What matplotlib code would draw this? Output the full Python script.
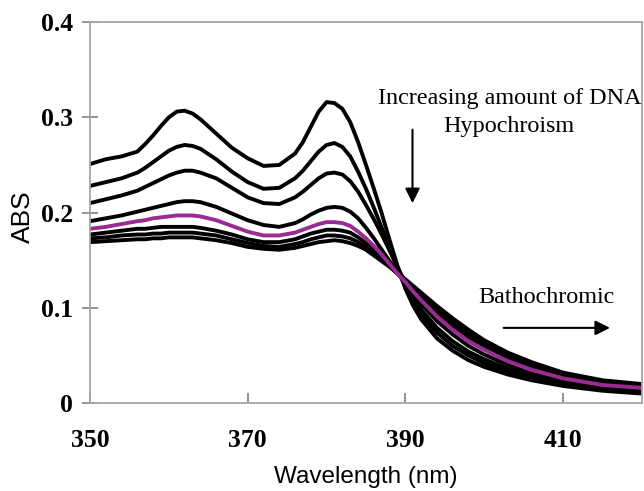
import matplotlib
matplotlib.use("Agg")
import matplotlib.pyplot as plt

# wavelength grid (nm), denser around the peaks and the steep drop
wl = [350, 352, 354, 356, 357, 358, 359, 360, 361, 362, 363, 364, 366, 368, 370, 372, 374, 376,
      377, 378, 379, 380, 381, 382, 383, 384, 385, 386, 387, 388, 389, 390, 391, 392,
      394, 396, 398, 400, 403, 406, 410, 415, 420]

# absorbance, free compound -> increasing DNA
abs1 = [.251, .256, .259, .264, .272, .281, .291, .300, .306, .307, .304, .298, .283, .268, .257, .249, .250, .262,
        .274, .290, .306, .316, .315, .309, .295, .274, .250, .225, .199, .171, .144, .120, .102, .088,
        .068, .055, .045, .038, .030, .024, .018, .013, .010]
abs2 = [.228, .232, .236, .242, .247, .253, .259, .265, .269, .271, .270, .267, .256, .243, .232, .225, .226, .236,
        .244, .254, .264, .271, .273, .269, .259, .243, .225, .205, .184, .162, .141, .122, .106, .093,
        .074, .060, .050, .042, .033, .026, .020, .015, .012]
abs3 = [.210, .214, .218, .223, .227, .231, .235, .239, .242, .244, .244, .242, .236, .226, .216, .210, .209, .216,
        .222, .229, .236, .241, .242, .240, .233, .222, .208, .193, .177, .160, .143, .126, .111, .098,
        .079, .065, .054, .046, .036, .028, .021, .016, .013]
abs4 = [.191, .194, .197, .201, .203, .205, .207, .209, .211, .212, .212, .211, .206, .199, .192, .187, .185, .189,
        .193, .198, .202, .205, .206, .205, .201, .194, .184, .173, .161, .149, .137, .125, .114, .104,
        .086, .072, .060, .051, .040, .031, .023, .017, .014]
abs5 = [.183, .185, .188, .191, .192, .194, .195, .196, .197, .197, .197, .196, .192, .186, .180, .176, .176, .179,
        .182, .185, .188, .190, .190, .189, .186, .180, .173, .165, .156, .146, .136, .127, .117, .108,
        .091, .077, .065, .056, .044, .035, .026, .019, .016]
abs6 = [.177, .179, .181, .183, .183, .184, .185, .185, .185, .185, .185, .184, .181, .177, .172, .169, .169, .172,
        .175, .178, .180, .182, .182, .181, .179, .174, .168, .161, .153, .145, .136, .128, .119, .111,
        .095, .081, .069, .059, .047, .037, .028, .021, .017]
abs7 = [.173, .174, .176, .177, .177, .178, .178, .179, .179, .179, .179, .178, .176, .172, .168, .165, .164, .167,
        .169, .172, .174, .176, .176, .175, .173, .169, .164, .158, .151, .144, .136, .129, .121, .113,
        .098, .085, .073, .062, .050, .040, .030, .022, .018]
abs8 = [.169, .170, .171, .172, .172, .173, .173, .174, .174, .174, .174, .173, .171, .168, .164, .162, .161, .163,
        .165, .167, .169, .170, .171, .170, .168, .165, .161, .155, .149, .143, .136, .130, .123, .116,
        .102, .089, .077, .066, .053, .043, .032, .024, .020]

xticks = [350, 370, 390, 410]
yticks = [0, 0.1, 0.2, 0.3, 0.4]
ytick_labels = ["0", "0.1", "0.2", "0.3", "0.4"]

fig = plt.figure(figsize=(6.44, 4.91), dpi=100)
ax = fig.add_axes([0.1398, 0.179, 0.857, 0.776])

for y in [abs1, abs2, abs3, abs4, abs6, abs7, abs8]:
    ax.plot(wl, y, color="black", lw=2.8, solid_joinstyle="round")
ax.plot(wl, abs5, color="#9a2b91", lw=2.8, solid_joinstyle="round")

ax.set_xlim(350, 420)
ax.set_ylim(0, 0.4)
ax.set_xticks(xticks)
ax.set_yticks(yticks)
ax.set_yticklabels(ytick_labels)

for s in ax.spines.values():
    s.set_color("#a6a6a6")
    s.set_linewidth(1.3)

ax.tick_params(axis="x", direction="in", length=7, width=1.2, color="#808080", pad=19)
ax.tick_params(axis="y", direction="inout", length=12, width=1.2, color="#808080", pad=6)
for lab in ax.get_xticklabels() + ax.get_yticklabels():
    lab.set_fontfamily("Liberation Serif")
    lab.set_fontweight("bold")
    lab.set_fontsize(18.5)

ax.set_xlabel("Wavelength (nm)", family="Liberation Sans", fontsize=17.5)
ax.xaxis.set_label_coords(0.5, -0.166)
ax.set_ylabel("ABS", family="Liberation Sans", fontsize=19)
ax.yaxis.set_label_coords(-0.10, 0.488)

ax.text(403.2, 0.320, "Increasing amount of DNA", family="Liberation Serif", fontsize=17.4,
        ha="center", va="center", clip_on=False)
ax.text(403.1, 0.290, "Hypochroism", family="Liberation Serif", fontsize=17.4,
        ha="center", va="center")
ax.annotate("", xy=(390.9, 0.207), xytext=(390.9, 0.290),
            arrowprops=dict(arrowstyle="-|>", color="black", lw=1.5, mutation_scale=22))
ax.text(407.9, 0.111, "Bathochromic", family="Liberation Serif", fontsize=17.4,
        ha="center", va="center")
ax.annotate("", xy=(416.3, 0.079), xytext=(402.1, 0.079),
            arrowprops=dict(arrowstyle="-|>", color="black", lw=1.5, mutation_scale=22))

fig.savefig("out.png", dpi=100)
